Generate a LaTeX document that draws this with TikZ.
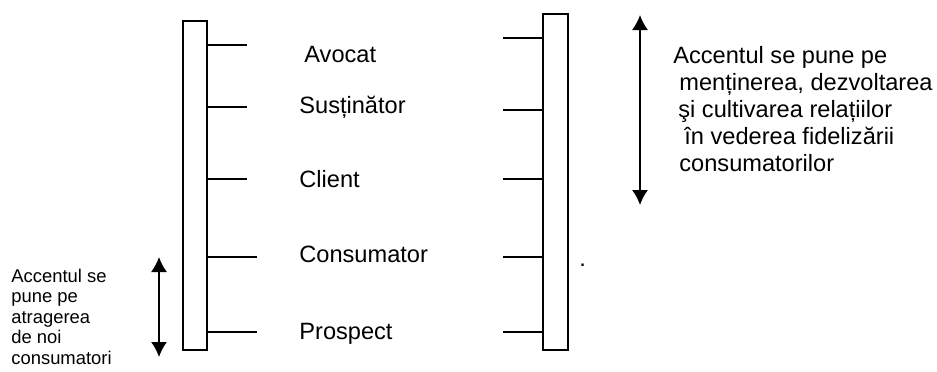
\documentclass[tikz,border=0pt]{standalone}
\usepackage{fontspec}
\setmainfont{Liberation Sans}
\usetikzlibrary{arrows.meta}
\begin{document}
\begin{tikzpicture}[x=0.5pt,y=-0.5pt,
  lbl/.style={anchor=base west,inner sep=0pt,font=\fontsize{11.8}{14}\selectfont},
  note/.style={anchor=base west,inner sep=0pt,font=\fontsize{9.2}{11}\selectfont},
  bar/.style={draw,line width=0.6pt,inner sep=0pt},
  tick/.style={line width=0.6pt},
  dbl/.style={line width=0.8pt,{Latex[length=7.5pt,width=8pt]}-{Latex[length=7.5pt,width=8pt]}}]
\useasboundingbox (0,0) rectangle (937,371);
% bars
\node[bar,minimum width=12pt,minimum height=164.5pt] (lbar) at (195,185.5) {};
\node[bar,minimum width=12.5pt,minimum height=168pt] (rbar) at (555.5,182) {};
% left ticks
\foreach \y/\l [count=\i] in {45/39,107/39,179/39,257/49,332/49}{
  \coordinate (lt\i) at (lbar.east |- 0,\y);
  \draw[tick] (lt\i) -- ++(\l,0);
}
% right ticks
\foreach \y [count=\i] in {38,110,179,257,332}{
  \coordinate (rt\i) at (rbar.west |- 0,\y);
  \draw[tick] (rt\i) -- ++(-39,0);
}
% labels
\node[lbl] (avocat) at (304,62) {Avocat};
\node[lbl] (sust) at (299,113) {Susținător};
\node[lbl] (client) at (299,187) {Client};
\node[lbl] (cons) at (299,262) {Consumator};
\node[lbl] (prosp) at (299,339) {Prospect};
\node[lbl] (dot) at (579,266) {.};
% right arrow and note
\coordinate (ra1) at (640,15);
\coordinate (ra2) at (640,205);
\draw[dbl] (ra1) -- (ra2);
\node[lbl] (r1) at (673,63) {Accentul se pune pe};
\node[lbl] (r2) at (679,90) {menținerea, dezvoltarea};
\node[lbl] (r3) at (678,117) {şi cultivarea relațiilor};
\node[lbl] (r4) at (684,144) {în vederea fidelizării};
\node[lbl] (r5) at (679,171) {consumatorilor};
% left arrow and note
\coordinate (la1) at (159,257);
\coordinate (la2) at (159,357);
\draw[dbl] (la1) -- (la2);
\node[note] (l1) at (11,282) {Accentul se};
\node[note] (l2) at (11,302.5) {pune pe};
\node[note] (l3) at (11,323) {atragerea};
\node[note] (l4) at (11,343.5) {de noi};
\node[note] (l5) at (11,364) {consumatori};
\end{tikzpicture}
\end{document}
